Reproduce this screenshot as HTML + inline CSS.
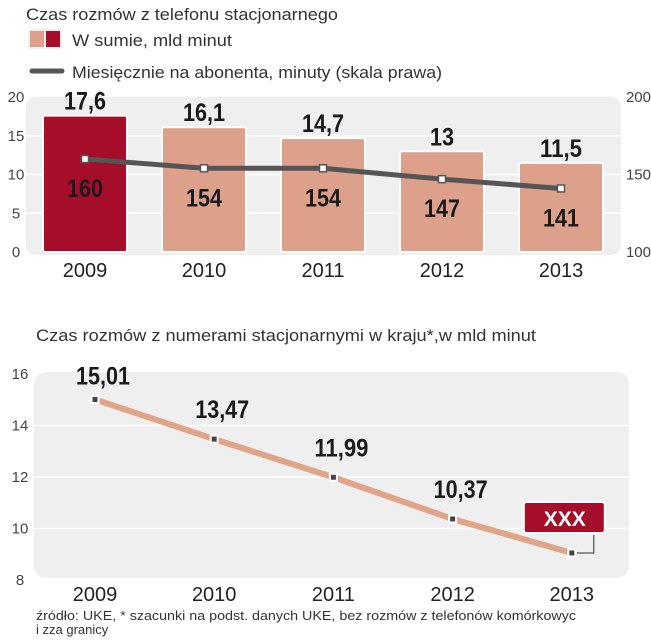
<!DOCTYPE html>
<html><head><meta charset="utf-8"><style>
body{margin:0;background:#fff;}
svg{display:block;font-family:"Liberation Sans Narrow","Liberation Sans",sans-serif;}
.t{font-family:"Liberation Sans",sans-serif;fill:#333;}
</style></head><body>
<svg id="c" width="651" height="640" viewBox="0 0 651 640" xmlns="http://www.w3.org/2000/svg">
<text class="t" x="26" y="20" font-size="17" textLength="312" lengthAdjust="spacingAndGlyphs">Czas rozmów z telefonu stacjonarnego</text>
<g>
<rect x="28" y="29" width="34" height="20" rx="3" fill="#eee"/>
<rect x="30" y="31" width="14" height="16" fill="#dda08a"/>
<rect x="46" y="31" width="14" height="16" fill="#a50d2a"/>
<text class="t" x="72" y="46" font-size="17" textLength="160" lengthAdjust="spacingAndGlyphs">W sumie, mld minut</text>
</g>
<g>
<line x1="32" y1="71" x2="62" y2="71" stroke="#555" stroke-width="5" stroke-linecap="round"/>
<text class="t" x="72" y="78" font-size="17" textLength="370" lengthAdjust="spacingAndGlyphs">Miesięcznie na abonenta, minuty (skala prawa)</text>
</g>
<text class="t" x="36" y="341" font-size="17" textLength="500" lengthAdjust="spacingAndGlyphs">Czas rozmów z numerami stacjonarnymi w kraju*,w mld minut</text>
<text class="t" x="36" y="620" font-size="13" textLength="540" lengthAdjust="spacingAndGlyphs">źródło: UKE, * szacunki na podst. danych UKE, bez rozmów z telefonów komórkowyc</text>
<text class="t" x="36" y="634" font-size="13">i zza granicy</text>
<g id="g1"></g><g id="g2"></g>
</svg>
<script>
const years=["2009","2010","2011","2012","2013"];
const totals=[17.6,16.1,14.7,13,11.5];
const totalLabels=["17,6","16,1","14,7","13","11,5"];
const perSub=[160,154,154,147,141];
const leftTicks=[0,5,10,15,20];
const rightTicks=[100,150,200];
const years2=["2009","2010","2011","2012","2013"];
const domestic=[15.01,13.47,11.99,10.37,9.05];
const domesticLabels=["15,01","13,47","11,99","10,37","XXX"];
const ticks2=[8,10,12,14,16];

const NS="http://www.w3.org/2000/svg";
function mk(p,tag,a,txt){const e=document.createElementNS(NS,tag);for(const k in a)e.setAttribute(k,a[k]);if(txt!=null)e.textContent=txt;p.appendChild(e);return e;}
function bold(p,x,y,s,size){const str=String(s);const w=str.split('').reduce((a,c)=>a+(c==','?6:12),0);
 return mk(p,'text',{x:x,y:y,'font-size':size,'font-weight':'bold',fill:'#1a1a1a','text-anchor':'middle',textLength:w,lengthAdjust:'spacingAndGlyphs'},str);}
// chart 1
const g1=document.getElementById('g1');
const yL=v=>252-v*(155/20);
const yR=v=>252-(v-100)*(155/100);
const x1=i=>85+i*119;
let bg=mk(g1,'rect',{x:26,y:97,width:595,height:158,rx:10,fill:'#efefef'});

leftTicks.forEach(t=>{
 if(t>0&&t<20){let l=mk(g1,'line',{x1:26,x2:621,y1:yL(t),y2:yL(t),stroke:'#fff','stroke-width':1.5});}
 let e=mk(g1,'text',{x:16,y:yL(t)+5,'font-size':15,fill:'#444','text-anchor':'middle','font-family':'Liberation Sans'},t);
 
});
rightTicks.forEach(t=>{let e=mk(g1,'text',{x:651,y:yR(t)+5,'font-size':15,fill:'#444','text-anchor':'end','font-family':'Liberation Sans'},t);
 });
totals.forEach((v,i)=>{
 let r=mk(g1,'rect',{x:x1(i)-42,y:yL(v),width:84,height:yL(0)-yL(v),fill:i==0?'#a50d2a':'#dda08a',stroke:'#fff','stroke-width':2,rx:2});
 
 let t=bold(g1,x1(i),yL(v)-6,totalLabels[i],25);
 
 let y=mk(g1,'text',{x:x1(i),y:277,'font-size':20,fill:'#222','text-anchor':'middle'},years[i]);
 
});
let pl=mk(g1,'polyline',{points:perSub.map((v,i)=>x1(i)+','+yR(v)).join(' '),fill:'none',stroke:'#555','stroke-width':5,'stroke-linejoin':'round'});

perSub.forEach((v,i)=>{
 let m=mk(g1,'rect',{x:x1(i)-3.5,y:yR(v)-3.5,width:7,height:7,fill:'#fff',stroke:'#555','stroke-width':1.5});
 
 let t=bold(g1,x1(i),yR(v)+38,v,25);
 
});
// chart 2
const g2=document.getElementById('g2');
const y2=v=>580-(v-8)*(206/8);
const x2=i=>95+i*119.2;
let bg2=mk(g2,'rect',{x:34,y:372,width:595,height:206,rx:12,fill:'#efefef'});

ticks2.forEach(t=>{
 if(t>8&&t<16){let l=mk(g2,'line',{x1:34,x2:629,y1:y2(t),y2:y2(t),stroke:'#fff','stroke-width':1.5});}
 let e=mk(g2,'text',{x:20,y:y2(t)+5,'font-size':15,fill:'#444','text-anchor':'middle','font-family':'Liberation Sans'},t);
 
});
let l2=mk(g2,'polyline',{points:domestic.map((v,i)=>x2(i)+','+y2(v)).join(' '),fill:'none',stroke:'#e0a588','stroke-width':6});

const last=domestic.length-1;
let conn=mk(g2,'polyline',{points:(x2(last)+5)+','+y2(domestic[last])+' '+(x2(last)+22)+','+y2(domestic[last])+' '+(x2(last)+22)+','+(y2(domestic[last])-18),fill:'none',stroke:'#333','stroke-width':1});

domestic.forEach((v,i)=>{
 let m=mk(g2,'rect',{x:x2(i)-3.5,y:y2(v)-3.5,width:7,height:7,fill:'#444',stroke:'#fff','stroke-width':2});
 
 if(i<last){let t=bold(g2,x2(i)+8,y2(v)-(i==0?15:21),domesticLabels[i],25);
 }
 let y=mk(g2,'text',{x:x2(i),y:601,'font-size':20,fill:'#222','text-anchor':'middle'},years2[i]);
 
});
let bx=mk(g2,'rect',{x:x2(last)-48,y:y2(domestic[last])-51,width:81,height:31,rx:3,fill:'#a50d2a',stroke:'#fff','stroke-width':2});

let bt=mk(g2,'text',{x:x2(last)-7,y:y2(domestic[last])-27,'font-size':21,'font-weight':'bold',fill:'#fff','text-anchor':'middle'},domesticLabels[last]);

</script>
</body></html>
